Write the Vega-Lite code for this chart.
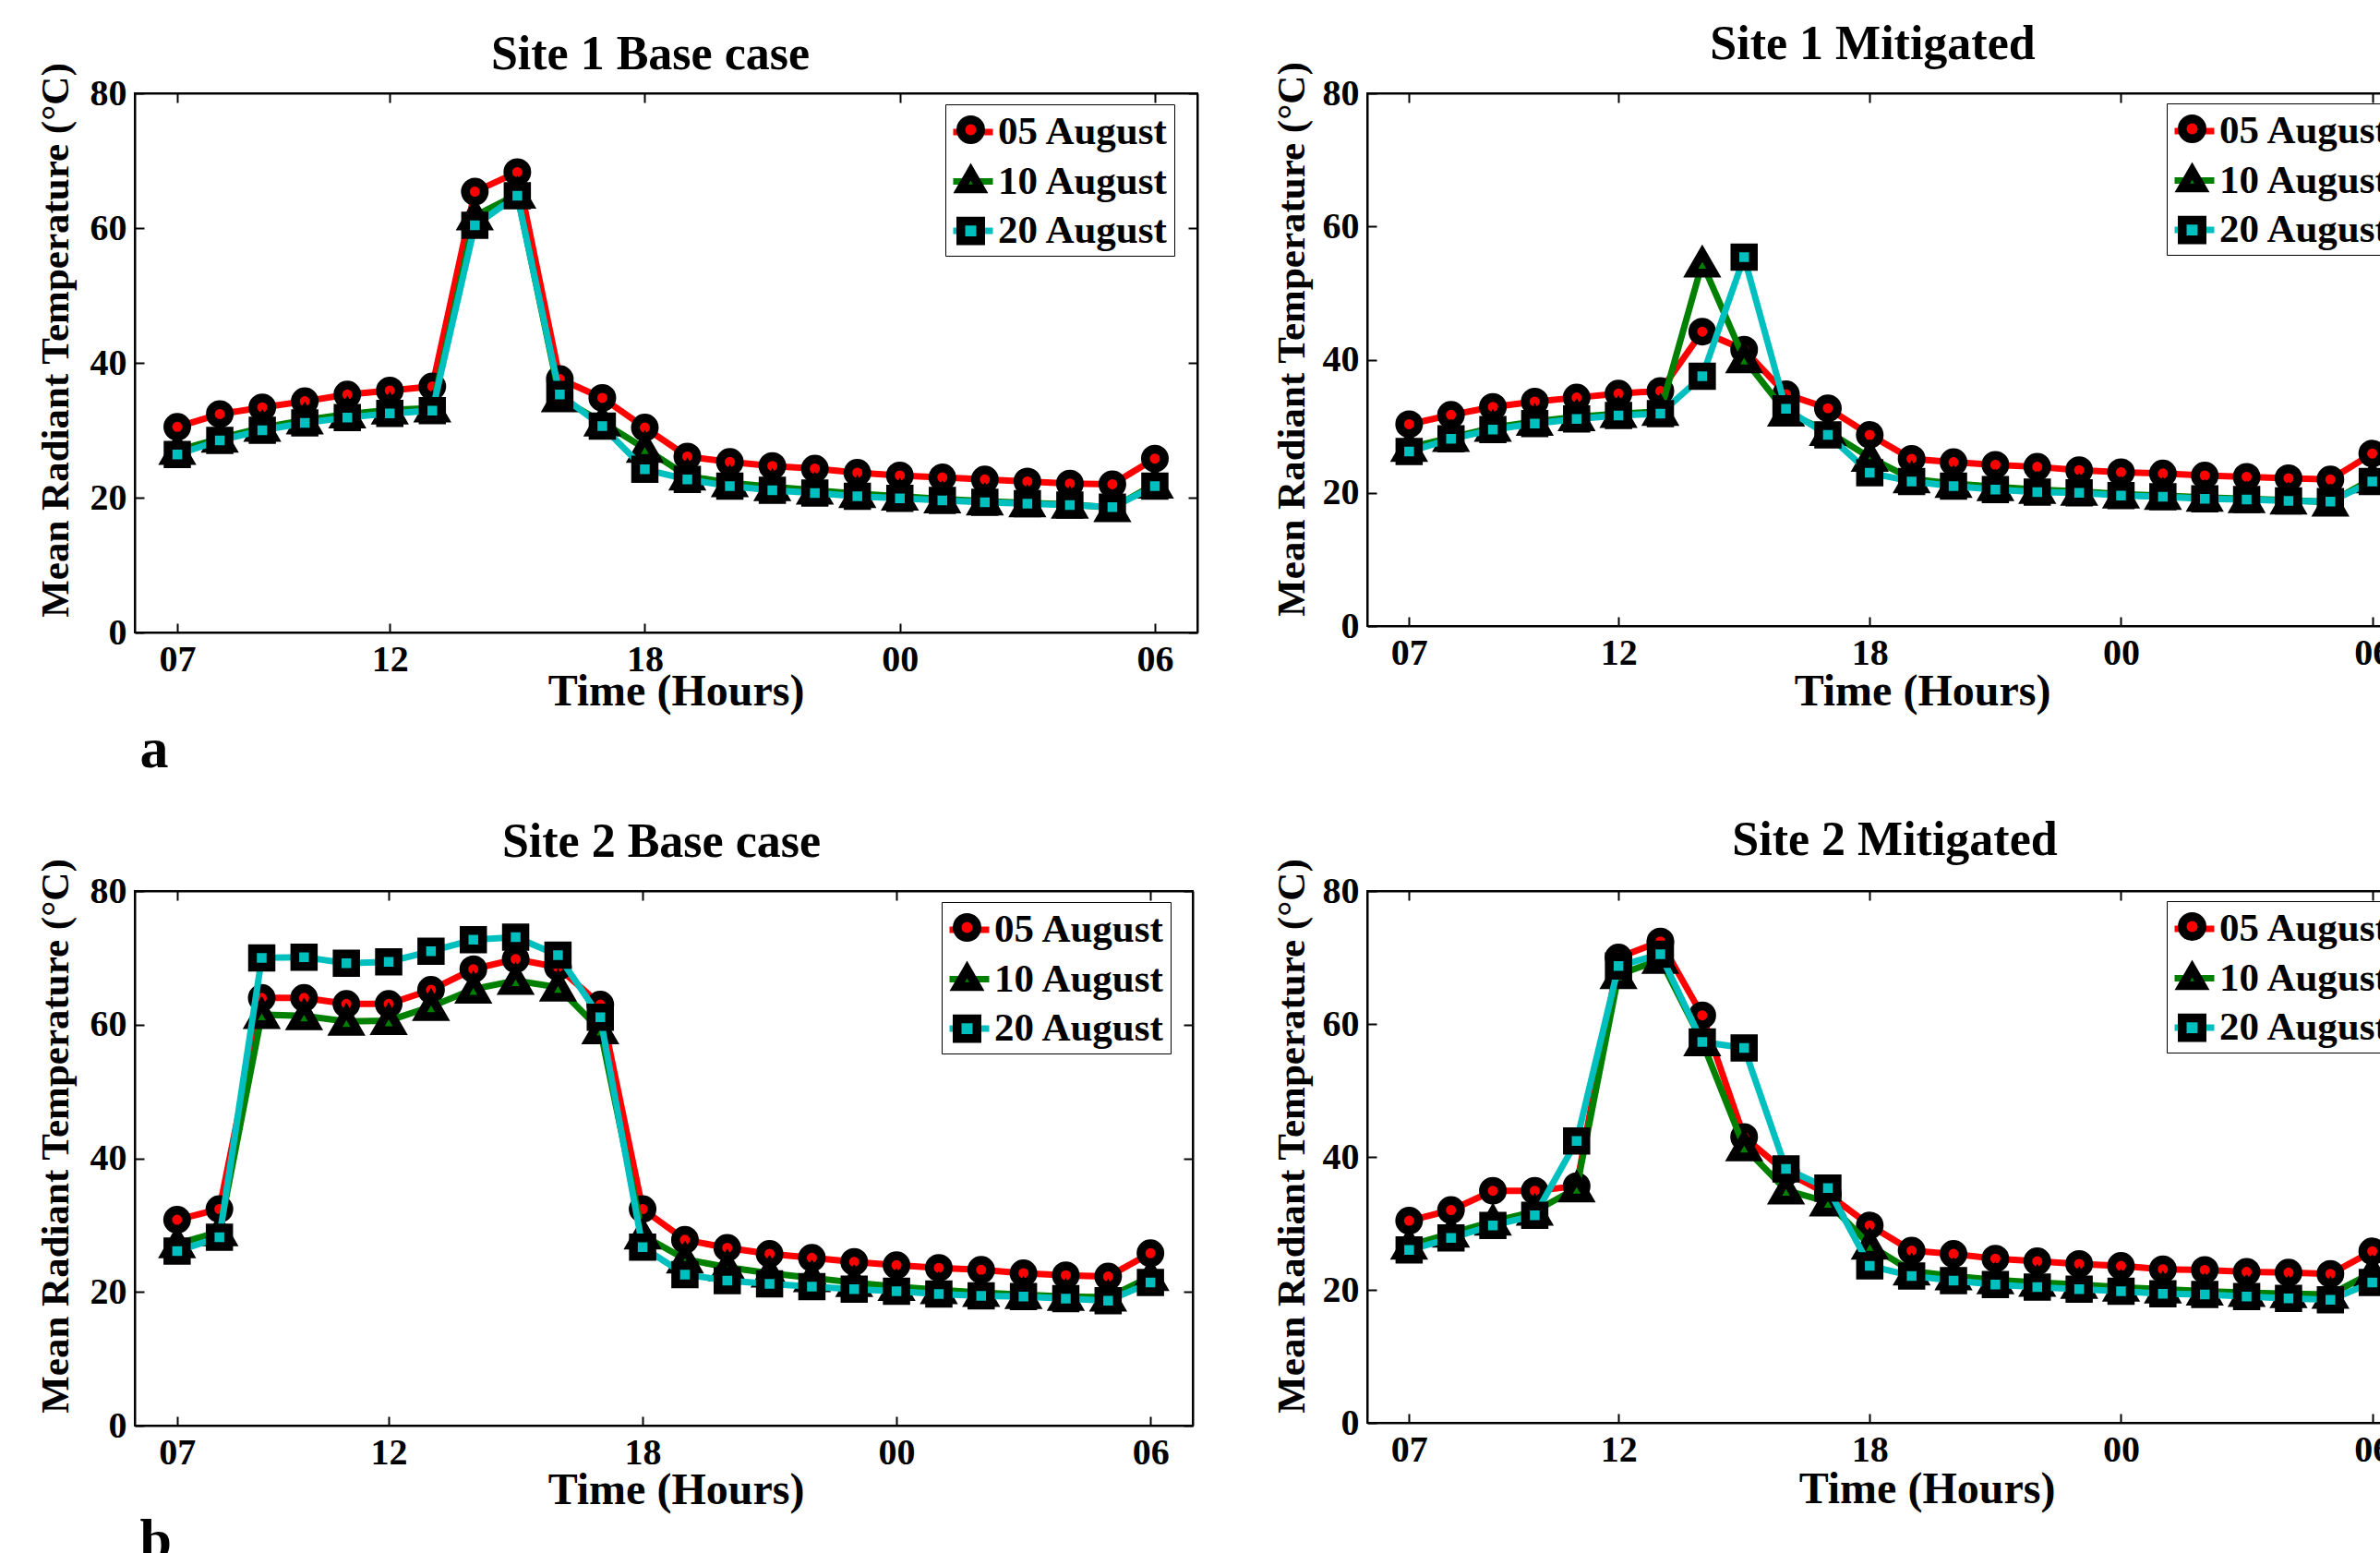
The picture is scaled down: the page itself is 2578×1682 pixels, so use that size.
{
"$schema": "https://vega.github.io/schema/vega-lite/v6.json",
"background": "white",
"padding": {"left": 37, "top": 20, "right": 0, "bottom": 0},
"data": {"name": "mrt"},
"datasets": {"mrt": [
{"panel":"S1B","date":"05 August","hour":1,"mrt":30.5},{"panel":"S1B","date":"05 August","hour":2,"mrt":32.4},{"panel":"S1B","date":"05 August","hour":3,"mrt":33.4},{"panel":"S1B","date":"05 August","hour":4,"mrt":34.3},{"panel":"S1B","date":"05 August","hour":5,"mrt":35.3},{"panel":"S1B","date":"05 August","hour":6,"mrt":35.9},{"panel":"S1B","date":"05 August","hour":7,"mrt":36.5},{"panel":"S1B","date":"05 August","hour":8,"mrt":65.4},{"panel":"S1B","date":"05 August","hour":9,"mrt":68.3},{"panel":"S1B","date":"05 August","hour":10,"mrt":37.6},{"panel":"S1B","date":"05 August","hour":11,"mrt":34.8},{"panel":"S1B","date":"05 August","hour":12,"mrt":30.4},{"panel":"S1B","date":"05 August","hour":13,"mrt":26.1},{"panel":"S1B","date":"05 August","hour":14,"mrt":25.3},{"panel":"S1B","date":"05 August","hour":15,"mrt":24.7},{"panel":"S1B","date":"05 August","hour":16,"mrt":24.3},{"panel":"S1B","date":"05 August","hour":17,"mrt":23.7},{"panel":"S1B","date":"05 August","hour":18,"mrt":23.3},{"panel":"S1B","date":"05 August","hour":19,"mrt":23.0},{"panel":"S1B","date":"05 August","hour":20,"mrt":22.7},{"panel":"S1B","date":"05 August","hour":21,"mrt":22.4},{"panel":"S1B","date":"05 August","hour":22,"mrt":22.1},{"panel":"S1B","date":"05 August","hour":23,"mrt":22.0},{"panel":"S1B","date":"05 August","hour":24,"mrt":25.8},
{"panel":"S1B","date":"10 August","hour":1,"mrt":27.0},{"panel":"S1B","date":"10 August","hour":2,"mrt":28.8},{"panel":"S1B","date":"10 August","hour":3,"mrt":30.4},{"panel":"S1B","date":"10 August","hour":4,"mrt":31.5},{"panel":"S1B","date":"10 August","hour":5,"mrt":32.4},{"panel":"S1B","date":"10 August","hour":6,"mrt":33.0},{"panel":"S1B","date":"10 August","hour":7,"mrt":33.3},{"panel":"S1B","date":"10 August","hour":8,"mrt":61.8},{"panel":"S1B","date":"10 August","hour":9,"mrt":65.0},{"panel":"S1B","date":"10 August","hour":10,"mrt":34.8},{"panel":"S1B","date":"10 August","hour":11,"mrt":31.2},{"panel":"S1B","date":"10 August","hour":12,"mrt":27.3},{"panel":"S1B","date":"10 August","hour":13,"mrt":23.2},{"panel":"S1B","date":"10 August","hour":14,"mrt":22.2},{"panel":"S1B","date":"10 August","hour":15,"mrt":21.6},{"panel":"S1B","date":"10 August","hour":16,"mrt":21.1},{"panel":"S1B","date":"10 August","hour":17,"mrt":20.6},{"panel":"S1B","date":"10 August","hour":18,"mrt":20.2},{"panel":"S1B","date":"10 August","hour":19,"mrt":19.8},{"panel":"S1B","date":"10 August","hour":20,"mrt":19.5},{"panel":"S1B","date":"10 August","hour":21,"mrt":19.2},{"panel":"S1B","date":"10 August","hour":22,"mrt":19.0},{"panel":"S1B","date":"10 August","hour":23,"mrt":18.5},{"panel":"S1B","date":"10 August","hour":24,"mrt":22.0},
{"panel":"S1B","date":"20 August","hour":1,"mrt":26.4},{"panel":"S1B","date":"20 August","hour":2,"mrt":28.5},{"panel":"S1B","date":"20 August","hour":3,"mrt":30.0},{"panel":"S1B","date":"20 August","hour":4,"mrt":31.1},{"panel":"S1B","date":"20 August","hour":5,"mrt":31.9},{"panel":"S1B","date":"20 August","hour":6,"mrt":32.5},{"panel":"S1B","date":"20 August","hour":7,"mrt":32.9},{"panel":"S1B","date":"20 August","hour":8,"mrt":60.4},{"panel":"S1B","date":"20 August","hour":9,"mrt":64.8},{"panel":"S1B","date":"20 August","hour":10,"mrt":35.3},{"panel":"S1B","date":"20 August","hour":11,"mrt":30.6},{"panel":"S1B","date":"20 August","hour":12,"mrt":24.2},{"panel":"S1B","date":"20 August","hour":13,"mrt":22.7},{"panel":"S1B","date":"20 August","hour":14,"mrt":21.7},{"panel":"S1B","date":"20 August","hour":15,"mrt":21.1},{"panel":"S1B","date":"20 August","hour":16,"mrt":20.7},{"panel":"S1B","date":"20 August","hour":17,"mrt":20.2},{"panel":"S1B","date":"20 August","hour":18,"mrt":19.9},{"panel":"S1B","date":"20 August","hour":19,"mrt":19.6},{"panel":"S1B","date":"20 August","hour":20,"mrt":19.3},{"panel":"S1B","date":"20 August","hour":21,"mrt":19.1},{"panel":"S1B","date":"20 August","hour":22,"mrt":18.9},{"panel":"S1B","date":"20 August","hour":23,"mrt":18.6},{"panel":"S1B","date":"20 August","hour":24,"mrt":21.7},
{"panel":"S1M","date":"05 August","hour":1,"mrt":30.3},{"panel":"S1M","date":"05 August","hour":2,"mrt":31.7},{"panel":"S1M","date":"05 August","hour":3,"mrt":32.9},{"panel":"S1M","date":"05 August","hour":4,"mrt":33.7},{"panel":"S1M","date":"05 August","hour":5,"mrt":34.3},{"panel":"S1M","date":"05 August","hour":6,"mrt":34.9},{"panel":"S1M","date":"05 August","hour":7,"mrt":35.3},{"panel":"S1M","date":"05 August","hour":8,"mrt":44.2},{"panel":"S1M","date":"05 August","hour":9,"mrt":41.5},{"panel":"S1M","date":"05 August","hour":10,"mrt":34.8},{"panel":"S1M","date":"05 August","hour":11,"mrt":32.7},{"panel":"S1M","date":"05 August","hour":12,"mrt":28.7},{"panel":"S1M","date":"05 August","hour":13,"mrt":25.1},{"panel":"S1M","date":"05 August","hour":14,"mrt":24.6},{"panel":"S1M","date":"05 August","hour":15,"mrt":24.2},{"panel":"S1M","date":"05 August","hour":16,"mrt":23.9},{"panel":"S1M","date":"05 August","hour":17,"mrt":23.4},{"panel":"S1M","date":"05 August","hour":18,"mrt":23.1},{"panel":"S1M","date":"05 August","hour":19,"mrt":22.9},{"panel":"S1M","date":"05 August","hour":20,"mrt":22.6},{"panel":"S1M","date":"05 August","hour":21,"mrt":22.4},{"panel":"S1M","date":"05 August","hour":22,"mrt":22.2},{"panel":"S1M","date":"05 August","hour":23,"mrt":22.0},{"panel":"S1M","date":"05 August","hour":24,"mrt":25.9},
{"panel":"S1M","date":"10 August","hour":1,"mrt":26.8},{"panel":"S1M","date":"10 August","hour":2,"mrt":28.3},{"panel":"S1M","date":"10 August","hour":3,"mrt":29.8},{"panel":"S1M","date":"10 August","hour":4,"mrt":30.7},{"panel":"S1M","date":"10 August","hour":5,"mrt":31.4},{"panel":"S1M","date":"10 August","hour":6,"mrt":31.9},{"panel":"S1M","date":"10 August","hour":7,"mrt":32.2},{"panel":"S1M","date":"10 August","hour":8,"mrt":54.5},{"panel":"S1M","date":"10 August","hour":9,"mrt":40.1},{"panel":"S1M","date":"10 August","hour":10,"mrt":32.1},{"panel":"S1M","date":"10 August","hour":11,"mrt":29.2},{"panel":"S1M","date":"10 August","hour":12,"mrt":25.3},{"panel":"S1M","date":"10 August","hour":13,"mrt":22.1},{"panel":"S1M","date":"10 August","hour":14,"mrt":21.4},{"panel":"S1M","date":"10 August","hour":15,"mrt":20.9},{"panel":"S1M","date":"10 August","hour":16,"mrt":20.5},{"panel":"S1M","date":"10 August","hour":17,"mrt":20.2},{"panel":"S1M","date":"10 August","hour":18,"mrt":19.8},{"panel":"S1M","date":"10 August","hour":19,"mrt":19.6},{"panel":"S1M","date":"10 August","hour":20,"mrt":19.3},{"panel":"S1M","date":"10 August","hour":21,"mrt":19.1},{"panel":"S1M","date":"10 August","hour":22,"mrt":18.9},{"panel":"S1M","date":"10 August","hour":23,"mrt":18.6},{"panel":"S1M","date":"10 August","hour":24,"mrt":22.1},
{"panel":"S1M","date":"20 August","hour":1,"mrt":26.2},{"panel":"S1M","date":"20 August","hour":2,"mrt":28.1},{"panel":"S1M","date":"20 August","hour":3,"mrt":29.5},{"panel":"S1M","date":"20 August","hour":4,"mrt":30.4},{"panel":"S1M","date":"20 August","hour":5,"mrt":31.1},{"panel":"S1M","date":"20 August","hour":6,"mrt":31.6},{"panel":"S1M","date":"20 August","hour":7,"mrt":31.9},{"panel":"S1M","date":"20 August","hour":8,"mrt":37.5},{"panel":"S1M","date":"20 August","hour":9,"mrt":55.4},{"panel":"S1M","date":"20 August","hour":10,"mrt":32.6},{"panel":"S1M","date":"20 August","hour":11,"mrt":28.7},{"panel":"S1M","date":"20 August","hour":12,"mrt":23.0},{"panel":"S1M","date":"20 August","hour":13,"mrt":21.7},{"panel":"S1M","date":"20 August","hour":14,"mrt":21.0},{"panel":"S1M","date":"20 August","hour":15,"mrt":20.5},{"panel":"S1M","date":"20 August","hour":16,"mrt":20.1},{"panel":"S1M","date":"20 August","hour":17,"mrt":20.0},{"panel":"S1M","date":"20 August","hour":18,"mrt":19.6},{"panel":"S1M","date":"20 August","hour":19,"mrt":19.4},{"panel":"S1M","date":"20 August","hour":20,"mrt":19.1},{"panel":"S1M","date":"20 August","hour":21,"mrt":19.0},{"panel":"S1M","date":"20 August","hour":22,"mrt":18.8},{"panel":"S1M","date":"20 August","hour":23,"mrt":18.7},{"panel":"S1M","date":"20 August","hour":24,"mrt":21.7},
{"panel":"S2B","date":"05 August","hour":1,"mrt":30.8},{"panel":"S2B","date":"05 August","hour":2,"mrt":32.4},{"panel":"S2B","date":"05 August","hour":3,"mrt":64.0},{"panel":"S2B","date":"05 August","hour":4,"mrt":64.0},{"panel":"S2B","date":"05 August","hour":5,"mrt":63.1},{"panel":"S2B","date":"05 August","hour":6,"mrt":63.1},{"panel":"S2B","date":"05 August","hour":7,"mrt":65.2},{"panel":"S2B","date":"05 August","hour":8,"mrt":68.3},{"panel":"S2B","date":"05 August","hour":9,"mrt":69.8},{"panel":"S2B","date":"05 August","hour":10,"mrt":68.6},{"panel":"S2B","date":"05 August","hour":11,"mrt":63.0},{"panel":"S2B","date":"05 August","hour":12,"mrt":32.4},{"panel":"S2B","date":"05 August","hour":13,"mrt":27.8},{"panel":"S2B","date":"05 August","hour":14,"mrt":26.6},{"panel":"S2B","date":"05 August","hour":15,"mrt":25.7},{"panel":"S2B","date":"05 August","hour":16,"mrt":25.1},{"panel":"S2B","date":"05 August","hour":17,"mrt":24.5},{"panel":"S2B","date":"05 August","hour":18,"mrt":24.0},{"panel":"S2B","date":"05 August","hour":19,"mrt":23.6},{"panel":"S2B","date":"05 August","hour":20,"mrt":23.3},{"panel":"S2B","date":"05 August","hour":21,"mrt":22.8},{"panel":"S2B","date":"05 August","hour":22,"mrt":22.5},{"panel":"S2B","date":"05 August","hour":23,"mrt":22.3},{"panel":"S2B","date":"05 August","hour":24,"mrt":25.8},
{"panel":"S2B","date":"10 August","hour":1,"mrt":27.2},{"panel":"S2B","date":"10 August","hour":2,"mrt":29.0},{"panel":"S2B","date":"10 August","hour":3,"mrt":61.5},{"panel":"S2B","date":"10 August","hour":4,"mrt":61.3},{"panel":"S2B","date":"10 August","hour":5,"mrt":60.5},{"panel":"S2B","date":"10 August","hour":6,"mrt":60.6},{"panel":"S2B","date":"10 August","hour":7,"mrt":62.7},{"panel":"S2B","date":"10 August","hour":8,"mrt":65.3},{"panel":"S2B","date":"10 August","hour":9,"mrt":66.6},{"panel":"S2B","date":"10 August","hour":10,"mrt":65.6},{"panel":"S2B","date":"10 August","hour":11,"mrt":59.2},{"panel":"S2B","date":"10 August","hour":12,"mrt":28.5},{"panel":"S2B","date":"10 August","hour":13,"mrt":24.9},{"panel":"S2B","date":"10 August","hour":14,"mrt":23.7},{"panel":"S2B","date":"10 August","hour":15,"mrt":22.8},{"panel":"S2B","date":"10 August","hour":16,"mrt":22.1},{"panel":"S2B","date":"10 August","hour":17,"mrt":21.4},{"panel":"S2B","date":"10 August","hour":18,"mrt":20.8},{"panel":"S2B","date":"10 August","hour":19,"mrt":20.3},{"panel":"S2B","date":"10 August","hour":20,"mrt":19.9},{"panel":"S2B","date":"10 August","hour":21,"mrt":19.6},{"panel":"S2B","date":"10 August","hour":22,"mrt":19.3},{"panel":"S2B","date":"10 August","hour":23,"mrt":19.2},{"panel":"S2B","date":"10 August","hour":24,"mrt":22.3},
{"panel":"S2B","date":"20 August","hour":1,"mrt":26.1},{"panel":"S2B","date":"20 August","hour":2,"mrt":28.2},{"panel":"S2B","date":"20 August","hour":3,"mrt":70.0},{"panel":"S2B","date":"20 August","hour":4,"mrt":70.1},{"panel":"S2B","date":"20 August","hour":5,"mrt":69.2},{"panel":"S2B","date":"20 August","hour":6,"mrt":69.4},{"panel":"S2B","date":"20 August","hour":7,"mrt":71.0},{"panel":"S2B","date":"20 August","hour":8,"mrt":72.7},{"panel":"S2B","date":"20 August","hour":9,"mrt":73.1},{"panel":"S2B","date":"20 August","hour":10,"mrt":70.4},{"panel":"S2B","date":"20 August","hour":11,"mrt":61.1},{"panel":"S2B","date":"20 August","hour":12,"mrt":26.7},{"panel":"S2B","date":"20 August","hour":13,"mrt":22.6},{"panel":"S2B","date":"20 August","hour":14,"mrt":21.7},{"panel":"S2B","date":"20 August","hour":15,"mrt":21.2},{"panel":"S2B","date":"20 August","hour":16,"mrt":20.8},{"panel":"S2B","date":"20 August","hour":17,"mrt":20.4},{"panel":"S2B","date":"20 August","hour":18,"mrt":20.1},{"panel":"S2B","date":"20 August","hour":19,"mrt":19.7},{"panel":"S2B","date":"20 August","hour":20,"mrt":19.4},{"panel":"S2B","date":"20 August","hour":21,"mrt":19.3},{"panel":"S2B","date":"20 August","hour":22,"mrt":19.0},{"panel":"S2B","date":"20 August","hour":23,"mrt":18.7},{"panel":"S2B","date":"20 August","hour":24,"mrt":21.4},
{"panel":"S2M","date":"05 August","hour":1,"mrt":30.4},{"panel":"S2M","date":"05 August","hour":2,"mrt":32.0},{"panel":"S2M","date":"05 August","hour":3,"mrt":34.9},{"panel":"S2M","date":"05 August","hour":4,"mrt":34.9},{"panel":"S2M","date":"05 August","hour":5,"mrt":35.6},{"panel":"S2M","date":"05 August","hour":6,"mrt":70.0},{"panel":"S2M","date":"05 August","hour":7,"mrt":72.4},{"panel":"S2M","date":"05 August","hour":8,"mrt":61.3},{"panel":"S2M","date":"05 August","hour":9,"mrt":43.0},{"panel":"S2M","date":"05 August","hour":10,"mrt":37.7},{"panel":"S2M","date":"05 August","hour":11,"mrt":34.4},{"panel":"S2M","date":"05 August","hour":12,"mrt":29.7},{"panel":"S2M","date":"05 August","hour":13,"mrt":25.9},{"panel":"S2M","date":"05 August","hour":14,"mrt":25.4},{"panel":"S2M","date":"05 August","hour":15,"mrt":24.7},{"panel":"S2M","date":"05 August","hour":16,"mrt":24.3},{"panel":"S2M","date":"05 August","hour":17,"mrt":23.9},{"panel":"S2M","date":"05 August","hour":18,"mrt":23.6},{"panel":"S2M","date":"05 August","hour":19,"mrt":23.1},{"panel":"S2M","date":"05 August","hour":20,"mrt":23.0},{"panel":"S2M","date":"05 August","hour":21,"mrt":22.7},{"panel":"S2M","date":"05 August","hour":22,"mrt":22.6},{"panel":"S2M","date":"05 August","hour":23,"mrt":22.4},{"panel":"S2M","date":"05 August","hour":24,"mrt":25.8},
{"panel":"S2M","date":"10 August","hour":1,"mrt":26.7},{"panel":"S2M","date":"10 August","hour":2,"mrt":28.5},{"panel":"S2M","date":"10 August","hour":3,"mrt":30.3},{"panel":"S2M","date":"10 August","hour":4,"mrt":31.8},{"panel":"S2M","date":"10 August","hour":5,"mrt":35.3},{"panel":"S2M","date":"10 August","hour":6,"mrt":67.4},{"panel":"S2M","date":"10 August","hour":7,"mrt":69.7},{"panel":"S2M","date":"10 August","hour":8,"mrt":57.3},{"panel":"S2M","date":"10 August","hour":9,"mrt":41.5},{"panel":"S2M","date":"10 August","hour":10,"mrt":35.0},{"panel":"S2M","date":"10 August","hour":11,"mrt":33.2},{"panel":"S2M","date":"10 August","hour":12,"mrt":26.7},{"panel":"S2M","date":"10 August","hour":13,"mrt":22.8},{"panel":"S2M","date":"10 August","hour":14,"mrt":22.1},{"panel":"S2M","date":"10 August","hour":15,"mrt":21.5},{"panel":"S2M","date":"10 August","hour":16,"mrt":21.1},{"panel":"S2M","date":"10 August","hour":17,"mrt":20.8},{"panel":"S2M","date":"10 August","hour":18,"mrt":20.4},{"panel":"S2M","date":"10 August","hour":19,"mrt":20.1},{"panel":"S2M","date":"10 August","hour":20,"mrt":19.8},{"panel":"S2M","date":"10 August","hour":21,"mrt":19.6},{"panel":"S2M","date":"10 August","hour":22,"mrt":19.4},{"panel":"S2M","date":"10 August","hour":23,"mrt":19.3},{"panel":"S2M","date":"10 August","hour":24,"mrt":22.6},
{"panel":"S2M","date":"20 August","hour":1,"mrt":26.0},{"panel":"S2M","date":"20 August","hour":2,"mrt":27.8},{"panel":"S2M","date":"20 August","hour":3,"mrt":29.7},{"panel":"S2M","date":"20 August","hour":4,"mrt":31.2},{"panel":"S2M","date":"20 August","hour":5,"mrt":42.4},{"panel":"S2M","date":"20 August","hour":6,"mrt":68.7},{"panel":"S2M","date":"20 August","hour":7,"mrt":70.5},{"panel":"S2M","date":"20 August","hour":8,"mrt":57.3},{"panel":"S2M","date":"20 August","hour":9,"mrt":56.4},{"panel":"S2M","date":"20 August","hour":10,"mrt":38.2},{"panel":"S2M","date":"20 August","hour":11,"mrt":35.3},{"panel":"S2M","date":"20 August","hour":12,"mrt":23.6},{"panel":"S2M","date":"20 August","hour":13,"mrt":22.1},{"panel":"S2M","date":"20 August","hour":14,"mrt":21.4},{"panel":"S2M","date":"20 August","hour":15,"mrt":20.8},{"panel":"S2M","date":"20 August","hour":16,"mrt":20.4},{"panel":"S2M","date":"20 August","hour":17,"mrt":20.1},{"panel":"S2M","date":"20 August","hour":18,"mrt":19.8},{"panel":"S2M","date":"20 August","hour":19,"mrt":19.4},{"panel":"S2M","date":"20 August","hour":20,"mrt":19.3},{"panel":"S2M","date":"20 August","hour":21,"mrt":19.0},{"panel":"S2M","date":"20 August","hour":22,"mrt":18.7},{"panel":"S2M","date":"20 August","hour":23,"mrt":18.5},{"panel":"S2M","date":"20 August","hour":24,"mrt":21.1}
]},
"bounds": "flush",
"spacing": 864,
"resolve": {"scale": {"color": "independent", "stroke": "independent", "shape": "independent"}, "legend": {"color": "independent", "stroke": "independent", "shape": "independent"}},
"vconcat": [
{
"bounds": "flush",
"spacing": 184,
"resolve": {"scale": {"color": "independent", "stroke": "independent", "shape": "independent"}, "legend": {"color": "independent", "stroke": "independent", "shape": "independent"}},
"hconcat": [
{
"width": 1151, "height": 584,
"transform": [{"filter": "datum.panel=='S1B'"}],
"encoding": {
"x": {"field": "hour", "type": "quantitative", "scale": {"domain": [0, 25], "nice": false, "zero": false}, "axis": null},
"y": {"field": "mrt", "type": "quantitative", "scale": {"domain": [0, 80], "nice": false}, "axis": null}
},
"layer": [
{"transform": [{"filter": "datum.date=='05 August'"}], "mark": {"type": "line", "strokeWidth": 7},
"encoding": {
"x": {"field": "hour", "type": "quantitative", "scale": {"domain": [0, 25], "nice": false, "zero": false}, "axis": {"orient": "bottom", "values": [1, 6, 12, 18, 24], "labelExpr": "(datum.value+6)%24<10 ? '0'+((datum.value+6)%24) : ''+((datum.value+6)%24)", "title": "Time (Hours)", "titleFontSize": 48, "titleX": 586, "titleY": 78, "titleAlign": "center", "titleBaseline": "alphabetic"}},
"y": {"field": "mrt", "type": "quantitative", "scale": {"domain": [0, 80], "nice": false}, "axis": {"orient": "left", "values": [0, 20, 40, 60, 80], "title": "Mean Radiant Temperature (°C)", "titleFontSize": 43, "titleX": -86, "titleY": 267, "titleAngle": 270, "titleAlign": "center", "titleBaseline": "middle"}},
"stroke": {"field": "date", "type": "nominal", "scale": {"domain": ["05 August", "10 August", "20 August"], "range": ["#ff0000", "#008000", "#00bfbf"]}, "legend": {"orient": "none", "legendX": 878, "legendY": 12, "title": null, "symbolType": "stroke", "symbolSize": 1849, "symbolStrokeWidth": 7, "labelFontSize": 43, "labelOffset": 2, "rowPadding": 6.5, "padding": 5, "strokeColor": "black", "fillColor": "white"}}
}},
{"transform": [{"filter": "datum.date=='05 August'"}], "mark": {"type": "point", "filled": true, "size": 420, "stroke": "black", "strokeWidth": 9.5, "opacity": 1},
"encoding": {
"x": {"field": "hour", "type": "quantitative", "scale": {"domain": [0, 25], "nice": false, "zero": false}, "axis": {"orient": "top", "values": [1, 6, 12, 18, 24], "labels": false, "title": "Site 1 Base case", "titleFontSize": 52, "titleX": 558, "titleY": -27, "titleAngle": 0, "titleAlign": "center", "titleBaseline": "alphabetic"}},
"y": {"field": "mrt", "type": "quantitative", "scale": {"domain": [0, 80], "nice": false}, "axis": {"orient": "right", "values": [0, 20, 40, 60, 80], "labels": false, "title": "a", "titleFontSize": 62, "titleX": -1146, "titleY": 729, "titleAngle": 0, "titleAlign": "left", "titleBaseline": "alphabetic"}},
"color": {"field": "date", "type": "nominal", "scale": {"range": ["#ff0000", "#008000", "#00bfbf"]}, "legend": {"orient": "none", "legendX": 883, "legendY": 17, "title": null, "symbolSize": 460, "symbolStrokeColor": "black", "symbolStrokeWidth": 9.5, "symbolOpacity": 1, "labelFontSize": 45, "labelOpacity": 0, "rowPadding": -4.2, "padding": 0, "encode": {"symbols": {"update": {"size": {"value": 460}, "stroke": {"value": "black"}, "strokeWidth": {"value": 9.5}, "opacity": {"value": 1}}}, "labels": {"update": {"fontSize": {"value": 45}, "opacity": {"value": 0}}}}}},
"shape": {"field": "date", "type": "nominal", "scale": {"range": ["circle", "triangle-up", "square"]}, "legend": {"orient": "none", "legendX": 883, "legendY": 17, "title": null, "symbolSize": 460, "symbolStrokeColor": "black", "symbolStrokeWidth": 9.5, "symbolOpacity": 1, "labelFontSize": 45, "labelOpacity": 0, "rowPadding": -4.2, "padding": 0, "encode": {"symbols": {"update": {"size": {"value": 460}, "stroke": {"value": "black"}, "strokeWidth": {"value": 9.5}, "opacity": {"value": 1}}}, "labels": {"update": {"fontSize": {"value": 45}, "opacity": {"value": 0}}}}}}
}},
{"transform": [{"filter": "datum.date=='10 August'"}], "mark": {"type": "line", "strokeWidth": 7},
"encoding": {"stroke": {"field": "date", "type": "nominal", "scale": {"domain": ["05 August", "10 August", "20 August"], "range": ["#ff0000", "#008000", "#00bfbf"]}, "legend": {"orient": "none", "legendX": 878, "legendY": 12, "title": null, "symbolType": "stroke", "symbolSize": 1849, "symbolStrokeWidth": 7, "labelFontSize": 43, "labelOffset": 2, "rowPadding": 6.5, "padding": 5, "strokeColor": "black", "fillColor": "white"}}}},
{"transform": [{"filter": "datum.date=='10 August'"}], "mark": {"type": "point", "filled": true, "size": 620, "stroke": "black", "strokeWidth": 9.5, "opacity": 1},
"encoding": {
"color": {"field": "date", "type": "nominal", "scale": {"range": ["#ff0000", "#008000", "#00bfbf"]}, "legend": {"orient": "none", "legendX": 883, "legendY": 17, "title": null, "symbolSize": 460, "symbolStrokeColor": "black", "symbolStrokeWidth": 9.5, "symbolOpacity": 1, "labelFontSize": 45, "labelOpacity": 0, "rowPadding": -4.2, "padding": 0, "encode": {"symbols": {"update": {"size": {"value": 460}, "stroke": {"value": "black"}, "strokeWidth": {"value": 9.5}, "opacity": {"value": 1}}}, "labels": {"update": {"fontSize": {"value": 45}, "opacity": {"value": 0}}}}}},
"shape": {"field": "date", "type": "nominal", "scale": {"range": ["circle", "triangle-up", "square"]}, "legend": {"orient": "none", "legendX": 883, "legendY": 17, "title": null, "symbolSize": 460, "symbolStrokeColor": "black", "symbolStrokeWidth": 9.5, "symbolOpacity": 1, "labelFontSize": 45, "labelOpacity": 0, "rowPadding": -4.2, "padding": 0, "encode": {"symbols": {"update": {"size": {"value": 460}, "stroke": {"value": "black"}, "strokeWidth": {"value": 9.5}, "opacity": {"value": 1}}}, "labels": {"update": {"fontSize": {"value": 45}, "opacity": {"value": 0}}}}}}
}},
{"transform": [{"filter": "datum.date=='20 August'"}], "mark": {"type": "line", "strokeWidth": 7},
"encoding": {"stroke": {"field": "date", "type": "nominal", "scale": {"domain": ["05 August", "10 August", "20 August"], "range": ["#ff0000", "#008000", "#00bfbf"]}, "legend": {"orient": "none", "legendX": 878, "legendY": 12, "title": null, "symbolType": "stroke", "symbolSize": 1849, "symbolStrokeWidth": 7, "labelFontSize": 43, "labelOffset": 2, "rowPadding": 6.5, "padding": 5, "strokeColor": "black", "fillColor": "white"}}}},
{"transform": [{"filter": "datum.date=='20 August'"}], "mark": {"type": "point", "filled": true, "size": 400, "stroke": "black", "strokeWidth": 9.5, "opacity": 1},
"encoding": {
"color": {"field": "date", "type": "nominal", "scale": {"range": ["#ff0000", "#008000", "#00bfbf"]}, "legend": {"orient": "none", "legendX": 883, "legendY": 17, "title": null, "symbolSize": 460, "symbolStrokeColor": "black", "symbolStrokeWidth": 9.5, "symbolOpacity": 1, "labelFontSize": 45, "labelOpacity": 0, "rowPadding": -4.2, "padding": 0, "encode": {"symbols": {"update": {"size": {"value": 460}, "stroke": {"value": "black"}, "strokeWidth": {"value": 9.5}, "opacity": {"value": 1}}}, "labels": {"update": {"fontSize": {"value": 45}, "opacity": {"value": 0}}}}}},
"shape": {"field": "date", "type": "nominal", "scale": {"range": ["circle", "triangle-up", "square"]}, "legend": {"orient": "none", "legendX": 883, "legendY": 17, "title": null, "symbolSize": 460, "symbolStrokeColor": "black", "symbolStrokeWidth": 9.5, "symbolOpacity": 1, "labelFontSize": 45, "labelOpacity": 0, "rowPadding": -4.2, "padding": 0, "encode": {"symbols": {"update": {"size": {"value": 460}, "stroke": {"value": "black"}, "strokeWidth": {"value": 9.5}, "opacity": {"value": 1}}}, "labels": {"update": {"fontSize": {"value": 45}, "opacity": {"value": 0}}}}}}
}}
],
"resolve": {"axis": {"x": "independent", "y": "independent"}}
},
{
"width": 1134, "height": 577,
"transform": [{"filter": "datum.panel=='S1M'"}],
"encoding": {
"x": {"field": "hour", "type": "quantitative", "scale": {"domain": [0, 25], "nice": false, "zero": false}, "axis": null},
"y": {"field": "mrt", "type": "quantitative", "scale": {"domain": [0, 80], "nice": false}, "axis": null}
},
"layer": [
{"transform": [{"filter": "datum.date=='05 August'"}], "mark": {"type": "line", "strokeWidth": 7},
"encoding": {
"x": {"field": "hour", "type": "quantitative", "scale": {"domain": [0, 25], "nice": false, "zero": false}, "axis": {"orient": "bottom", "values": [1, 6, 12, 18, 24], "labelExpr": "(datum.value+6)%24<10 ? '0'+((datum.value+6)%24) : ''+((datum.value+6)%24)", "title": "Time (Hours)", "titleFontSize": 48, "titleX": 601, "titleY": 85, "titleAlign": "center", "titleBaseline": "alphabetic"}},
"y": {"field": "mrt", "type": "quantitative", "scale": {"domain": [0, 80], "nice": false}, "axis": {"orient": "left", "values": [0, 20, 40, 60, 80], "title": "Mean Radiant Temperature (°C)", "titleFontSize": 43, "titleX": -82, "titleY": 266, "titleAngle": 270, "titleAlign": "center", "titleBaseline": "middle"}},
"stroke": {"field": "date", "type": "nominal", "scale": {"domain": ["05 August", "10 August", "20 August"], "range": ["#ff0000", "#008000", "#00bfbf"]}, "legend": {"orient": "none", "legendX": 866, "legendY": 11, "title": null, "symbolType": "stroke", "symbolSize": 1849, "symbolStrokeWidth": 7, "labelFontSize": 43, "labelOffset": 2, "rowPadding": 6.5, "padding": 5, "strokeColor": "black", "fillColor": "white"}}
}},
{"transform": [{"filter": "datum.date=='05 August'"}], "mark": {"type": "point", "filled": true, "size": 420, "stroke": "black", "strokeWidth": 9.5, "opacity": 1},
"encoding": {
"x": {"field": "hour", "type": "quantitative", "scale": {"domain": [0, 25], "nice": false, "zero": false}, "axis": {"orient": "top", "values": [1, 6, 12, 18, 24], "labels": false, "title": "Site 1 Mitigated", "titleFontSize": 52, "titleX": 547, "titleY": -38, "titleAngle": 0, "titleAlign": "center", "titleBaseline": "alphabetic"}},
"y": {"field": "mrt", "type": "quantitative", "scale": {"domain": [0, 80], "nice": false}, "axis": {"orient": "right", "values": [0, 20, 40, 60, 80], "labels": false, "title": null}},
"color": {"field": "date", "type": "nominal", "scale": {"range": ["#ff0000", "#008000", "#00bfbf"]}, "legend": {"orient": "none", "legendX": 871, "legendY": 16, "title": null, "symbolSize": 460, "symbolStrokeColor": "black", "symbolStrokeWidth": 9.5, "symbolOpacity": 1, "labelFontSize": 45, "labelOpacity": 0, "rowPadding": -4.2, "padding": 0, "encode": {"symbols": {"update": {"size": {"value": 460}, "stroke": {"value": "black"}, "strokeWidth": {"value": 9.5}, "opacity": {"value": 1}}}, "labels": {"update": {"fontSize": {"value": 45}, "opacity": {"value": 0}}}}}},
"shape": {"field": "date", "type": "nominal", "scale": {"range": ["circle", "triangle-up", "square"]}, "legend": {"orient": "none", "legendX": 871, "legendY": 16, "title": null, "symbolSize": 460, "symbolStrokeColor": "black", "symbolStrokeWidth": 9.5, "symbolOpacity": 1, "labelFontSize": 45, "labelOpacity": 0, "rowPadding": -4.2, "padding": 0, "encode": {"symbols": {"update": {"size": {"value": 460}, "stroke": {"value": "black"}, "strokeWidth": {"value": 9.5}, "opacity": {"value": 1}}}, "labels": {"update": {"fontSize": {"value": 45}, "opacity": {"value": 0}}}}}}
}},
{"transform": [{"filter": "datum.date=='10 August'"}], "mark": {"type": "line", "strokeWidth": 7},
"encoding": {"stroke": {"field": "date", "type": "nominal", "scale": {"domain": ["05 August", "10 August", "20 August"], "range": ["#ff0000", "#008000", "#00bfbf"]}, "legend": {"orient": "none", "legendX": 866, "legendY": 11, "title": null, "symbolType": "stroke", "symbolSize": 1849, "symbolStrokeWidth": 7, "labelFontSize": 43, "labelOffset": 2, "rowPadding": 6.5, "padding": 5, "strokeColor": "black", "fillColor": "white"}}}},
{"transform": [{"filter": "datum.date=='10 August'"}], "mark": {"type": "point", "filled": true, "size": 620, "stroke": "black", "strokeWidth": 9.5, "opacity": 1},
"encoding": {
"color": {"field": "date", "type": "nominal", "scale": {"range": ["#ff0000", "#008000", "#00bfbf"]}, "legend": {"orient": "none", "legendX": 871, "legendY": 16, "title": null, "symbolSize": 460, "symbolStrokeColor": "black", "symbolStrokeWidth": 9.5, "symbolOpacity": 1, "labelFontSize": 45, "labelOpacity": 0, "rowPadding": -4.2, "padding": 0, "encode": {"symbols": {"update": {"size": {"value": 460}, "stroke": {"value": "black"}, "strokeWidth": {"value": 9.5}, "opacity": {"value": 1}}}, "labels": {"update": {"fontSize": {"value": 45}, "opacity": {"value": 0}}}}}},
"shape": {"field": "date", "type": "nominal", "scale": {"range": ["circle", "triangle-up", "square"]}, "legend": {"orient": "none", "legendX": 871, "legendY": 16, "title": null, "symbolSize": 460, "symbolStrokeColor": "black", "symbolStrokeWidth": 9.5, "symbolOpacity": 1, "labelFontSize": 45, "labelOpacity": 0, "rowPadding": -4.2, "padding": 0, "encode": {"symbols": {"update": {"size": {"value": 460}, "stroke": {"value": "black"}, "strokeWidth": {"value": 9.5}, "opacity": {"value": 1}}}, "labels": {"update": {"fontSize": {"value": 45}, "opacity": {"value": 0}}}}}}
}},
{"transform": [{"filter": "datum.date=='20 August'"}], "mark": {"type": "line", "strokeWidth": 7},
"encoding": {"stroke": {"field": "date", "type": "nominal", "scale": {"domain": ["05 August", "10 August", "20 August"], "range": ["#ff0000", "#008000", "#00bfbf"]}, "legend": {"orient": "none", "legendX": 866, "legendY": 11, "title": null, "symbolType": "stroke", "symbolSize": 1849, "symbolStrokeWidth": 7, "labelFontSize": 43, "labelOffset": 2, "rowPadding": 6.5, "padding": 5, "strokeColor": "black", "fillColor": "white"}}}},
{"transform": [{"filter": "datum.date=='20 August'"}], "mark": {"type": "point", "filled": true, "size": 400, "stroke": "black", "strokeWidth": 9.5, "opacity": 1},
"encoding": {
"color": {"field": "date", "type": "nominal", "scale": {"range": ["#ff0000", "#008000", "#00bfbf"]}, "legend": {"orient": "none", "legendX": 871, "legendY": 16, "title": null, "symbolSize": 460, "symbolStrokeColor": "black", "symbolStrokeWidth": 9.5, "symbolOpacity": 1, "labelFontSize": 45, "labelOpacity": 0, "rowPadding": -4.2, "padding": 0, "encode": {"symbols": {"update": {"size": {"value": 460}, "stroke": {"value": "black"}, "strokeWidth": {"value": 9.5}, "opacity": {"value": 1}}}, "labels": {"update": {"fontSize": {"value": 45}, "opacity": {"value": 0}}}}}},
"shape": {"field": "date", "type": "nominal", "scale": {"range": ["circle", "triangle-up", "square"]}, "legend": {"orient": "none", "legendX": 871, "legendY": 16, "title": null, "symbolSize": 460, "symbolStrokeColor": "black", "symbolStrokeWidth": 9.5, "symbolOpacity": 1, "labelFontSize": 45, "labelOpacity": 0, "rowPadding": -4.2, "padding": 0, "encode": {"symbols": {"update": {"size": {"value": 460}, "stroke": {"value": "black"}, "strokeWidth": {"value": 9.5}, "opacity": {"value": 1}}}, "labels": {"update": {"fontSize": {"value": 45}, "opacity": {"value": 0}}}}}}
}}
],
"resolve": {"axis": {"x": "independent", "y": "independent"}}
}
]
},
{
"bounds": "flush",
"spacing": 189,
"resolve": {"scale": {"color": "independent", "stroke": "independent", "shape": "independent"}, "legend": {"color": "independent", "stroke": "independent", "shape": "independent"}},
"hconcat": [
{
"width": 1146, "height": 579,
"transform": [{"filter": "datum.panel=='S2B'"}],
"encoding": {
"x": {"field": "hour", "type": "quantitative", "scale": {"domain": [0, 25], "nice": false, "zero": false}, "axis": null},
"y": {"field": "mrt", "type": "quantitative", "scale": {"domain": [0, 80], "nice": false}, "axis": null}
},
"layer": [
{"transform": [{"filter": "datum.date=='05 August'"}], "mark": {"type": "line", "strokeWidth": 7},
"encoding": {
"x": {"field": "hour", "type": "quantitative", "scale": {"domain": [0, 25], "nice": false, "zero": false}, "axis": {"orient": "bottom", "values": [1, 6, 12, 18, 24], "labelExpr": "(datum.value+6)%24<10 ? '0'+((datum.value+6)%24) : ''+((datum.value+6)%24)", "title": "Time (Hours)", "titleFontSize": 48, "titleX": 586, "titleY": 84, "titleAlign": "center", "titleBaseline": "alphabetic"}},
"y": {"field": "mrt", "type": "quantitative", "scale": {"domain": [0, 80], "nice": false}, "axis": {"orient": "left", "values": [0, 20, 40, 60, 80], "title": "Mean Radiant Temperature (°C)", "titleFontSize": 43, "titleX": -86, "titleY": 265, "titleAngle": 270, "titleAlign": "center", "titleBaseline": "middle"}},
"stroke": {"field": "date", "type": "nominal", "scale": {"domain": ["05 August", "10 August", "20 August"], "range": ["#ff0000", "#008000", "#00bfbf"]}, "legend": {"orient": "none", "legendX": 874, "legendY": 12, "title": null, "symbolType": "stroke", "symbolSize": 1849, "symbolStrokeWidth": 7, "labelFontSize": 43, "labelOffset": 2, "rowPadding": 6.5, "padding": 5, "strokeColor": "black", "fillColor": "white"}}
}},
{"transform": [{"filter": "datum.date=='05 August'"}], "mark": {"type": "point", "filled": true, "size": 420, "stroke": "black", "strokeWidth": 9.5, "opacity": 1},
"encoding": {
"x": {"field": "hour", "type": "quantitative", "scale": {"domain": [0, 25], "nice": false, "zero": false}, "axis": {"orient": "top", "values": [1, 6, 12, 18, 24], "labels": false, "title": "Site 2 Base case", "titleFontSize": 52, "titleX": 570, "titleY": -38, "titleAngle": 0, "titleAlign": "center", "titleBaseline": "alphabetic"}},
"y": {"field": "mrt", "type": "quantitative", "scale": {"domain": [0, 80], "nice": false}, "axis": {"orient": "right", "values": [0, 20, 40, 60, 80], "labels": false, "title": "b", "titleFontSize": 62, "titleX": -1141, "titleY": 722, "titleAngle": 0, "titleAlign": "left", "titleBaseline": "alphabetic"}},
"color": {"field": "date", "type": "nominal", "scale": {"range": ["#ff0000", "#008000", "#00bfbf"]}, "legend": {"orient": "none", "legendX": 879, "legendY": 17, "title": null, "symbolSize": 460, "symbolStrokeColor": "black", "symbolStrokeWidth": 9.5, "symbolOpacity": 1, "labelFontSize": 45, "labelOpacity": 0, "rowPadding": -4.2, "padding": 0, "encode": {"symbols": {"update": {"size": {"value": 460}, "stroke": {"value": "black"}, "strokeWidth": {"value": 9.5}, "opacity": {"value": 1}}}, "labels": {"update": {"fontSize": {"value": 45}, "opacity": {"value": 0}}}}}},
"shape": {"field": "date", "type": "nominal", "scale": {"range": ["circle", "triangle-up", "square"]}, "legend": {"orient": "none", "legendX": 879, "legendY": 17, "title": null, "symbolSize": 460, "symbolStrokeColor": "black", "symbolStrokeWidth": 9.5, "symbolOpacity": 1, "labelFontSize": 45, "labelOpacity": 0, "rowPadding": -4.2, "padding": 0, "encode": {"symbols": {"update": {"size": {"value": 460}, "stroke": {"value": "black"}, "strokeWidth": {"value": 9.5}, "opacity": {"value": 1}}}, "labels": {"update": {"fontSize": {"value": 45}, "opacity": {"value": 0}}}}}}
}},
{"transform": [{"filter": "datum.date=='10 August'"}], "mark": {"type": "line", "strokeWidth": 7},
"encoding": {"stroke": {"field": "date", "type": "nominal", "scale": {"domain": ["05 August", "10 August", "20 August"], "range": ["#ff0000", "#008000", "#00bfbf"]}, "legend": {"orient": "none", "legendX": 874, "legendY": 12, "title": null, "symbolType": "stroke", "symbolSize": 1849, "symbolStrokeWidth": 7, "labelFontSize": 43, "labelOffset": 2, "rowPadding": 6.5, "padding": 5, "strokeColor": "black", "fillColor": "white"}}}},
{"transform": [{"filter": "datum.date=='10 August'"}], "mark": {"type": "point", "filled": true, "size": 620, "stroke": "black", "strokeWidth": 9.5, "opacity": 1},
"encoding": {
"color": {"field": "date", "type": "nominal", "scale": {"range": ["#ff0000", "#008000", "#00bfbf"]}, "legend": {"orient": "none", "legendX": 879, "legendY": 17, "title": null, "symbolSize": 460, "symbolStrokeColor": "black", "symbolStrokeWidth": 9.5, "symbolOpacity": 1, "labelFontSize": 45, "labelOpacity": 0, "rowPadding": -4.2, "padding": 0, "encode": {"symbols": {"update": {"size": {"value": 460}, "stroke": {"value": "black"}, "strokeWidth": {"value": 9.5}, "opacity": {"value": 1}}}, "labels": {"update": {"fontSize": {"value": 45}, "opacity": {"value": 0}}}}}},
"shape": {"field": "date", "type": "nominal", "scale": {"range": ["circle", "triangle-up", "square"]}, "legend": {"orient": "none", "legendX": 879, "legendY": 17, "title": null, "symbolSize": 460, "symbolStrokeColor": "black", "symbolStrokeWidth": 9.5, "symbolOpacity": 1, "labelFontSize": 45, "labelOpacity": 0, "rowPadding": -4.2, "padding": 0, "encode": {"symbols": {"update": {"size": {"value": 460}, "stroke": {"value": "black"}, "strokeWidth": {"value": 9.5}, "opacity": {"value": 1}}}, "labels": {"update": {"fontSize": {"value": 45}, "opacity": {"value": 0}}}}}}
}},
{"transform": [{"filter": "datum.date=='20 August'"}], "mark": {"type": "line", "strokeWidth": 7},
"encoding": {"stroke": {"field": "date", "type": "nominal", "scale": {"domain": ["05 August", "10 August", "20 August"], "range": ["#ff0000", "#008000", "#00bfbf"]}, "legend": {"orient": "none", "legendX": 874, "legendY": 12, "title": null, "symbolType": "stroke", "symbolSize": 1849, "symbolStrokeWidth": 7, "labelFontSize": 43, "labelOffset": 2, "rowPadding": 6.5, "padding": 5, "strokeColor": "black", "fillColor": "white"}}}},
{"transform": [{"filter": "datum.date=='20 August'"}], "mark": {"type": "point", "filled": true, "size": 400, "stroke": "black", "strokeWidth": 9.5, "opacity": 1},
"encoding": {
"color": {"field": "date", "type": "nominal", "scale": {"range": ["#ff0000", "#008000", "#00bfbf"]}, "legend": {"orient": "none", "legendX": 879, "legendY": 17, "title": null, "symbolSize": 460, "symbolStrokeColor": "black", "symbolStrokeWidth": 9.5, "symbolOpacity": 1, "labelFontSize": 45, "labelOpacity": 0, "rowPadding": -4.2, "padding": 0, "encode": {"symbols": {"update": {"size": {"value": 460}, "stroke": {"value": "black"}, "strokeWidth": {"value": 9.5}, "opacity": {"value": 1}}}, "labels": {"update": {"fontSize": {"value": 45}, "opacity": {"value": 0}}}}}},
"shape": {"field": "date", "type": "nominal", "scale": {"range": ["circle", "triangle-up", "square"]}, "legend": {"orient": "none", "legendX": 879, "legendY": 17, "title": null, "symbolSize": 460, "symbolStrokeColor": "black", "symbolStrokeWidth": 9.5, "symbolOpacity": 1, "labelFontSize": 45, "labelOpacity": 0, "rowPadding": -4.2, "padding": 0, "encode": {"symbols": {"update": {"size": {"value": 460}, "stroke": {"value": "black"}, "strokeWidth": {"value": 9.5}, "opacity": {"value": 1}}}, "labels": {"update": {"fontSize": {"value": 45}, "opacity": {"value": 0}}}}}}
}}
],
"resolve": {"axis": {"x": "independent", "y": "independent"}}
},
{
"width": 1134, "height": 576,
"transform": [{"filter": "datum.panel=='S2M'"}],
"encoding": {
"x": {"field": "hour", "type": "quantitative", "scale": {"domain": [0, 25], "nice": false, "zero": false}, "axis": null},
"y": {"field": "mrt", "type": "quantitative", "scale": {"domain": [0, 80], "nice": false}, "axis": null}
},
"layer": [
{"transform": [{"filter": "datum.date=='05 August'"}], "mark": {"type": "line", "strokeWidth": 7},
"encoding": {
"x": {"field": "hour", "type": "quantitative", "scale": {"domain": [0, 25], "nice": false, "zero": false}, "axis": {"orient": "bottom", "values": [1, 6, 12, 18, 24], "labelExpr": "(datum.value+6)%24<10 ? '0'+((datum.value+6)%24) : ''+((datum.value+6)%24)", "title": "Time (Hours)", "titleFontSize": 48, "titleX": 606, "titleY": 86, "titleAlign": "center", "titleBaseline": "alphabetic"}},
"y": {"field": "mrt", "type": "quantitative", "scale": {"domain": [0, 80], "nice": false}, "axis": {"orient": "left", "values": [0, 20, 40, 60, 80], "title": "Mean Radiant Temperature (°C)", "titleFontSize": 43, "titleX": -82, "titleY": 265, "titleAngle": 270, "titleAlign": "center", "titleBaseline": "middle"}},
"stroke": {"field": "date", "type": "nominal", "scale": {"domain": ["05 August", "10 August", "20 August"], "range": ["#ff0000", "#008000", "#00bfbf"]}, "legend": {"orient": "none", "legendX": 866, "legendY": 11, "title": null, "symbolType": "stroke", "symbolSize": 1849, "symbolStrokeWidth": 7, "labelFontSize": 43, "labelOffset": 2, "rowPadding": 6.5, "padding": 5, "strokeColor": "black", "fillColor": "white"}}
}},
{"transform": [{"filter": "datum.date=='05 August'"}], "mark": {"type": "point", "filled": true, "size": 420, "stroke": "black", "strokeWidth": 9.5, "opacity": 1},
"encoding": {
"x": {"field": "hour", "type": "quantitative", "scale": {"domain": [0, 25], "nice": false, "zero": false}, "axis": {"orient": "top", "values": [1, 6, 12, 18, 24], "labels": false, "title": "Site 2 Mitigated", "titleFontSize": 52, "titleX": 571, "titleY": -40, "titleAngle": 0, "titleAlign": "center", "titleBaseline": "alphabetic"}},
"y": {"field": "mrt", "type": "quantitative", "scale": {"domain": [0, 80], "nice": false}, "axis": {"orient": "right", "values": [0, 20, 40, 60, 80], "labels": false, "title": null}},
"color": {"field": "date", "type": "nominal", "scale": {"range": ["#ff0000", "#008000", "#00bfbf"]}, "legend": {"orient": "none", "legendX": 871, "legendY": 16, "title": null, "symbolSize": 460, "symbolStrokeColor": "black", "symbolStrokeWidth": 9.5, "symbolOpacity": 1, "labelFontSize": 45, "labelOpacity": 0, "rowPadding": -4.2, "padding": 0, "encode": {"symbols": {"update": {"size": {"value": 460}, "stroke": {"value": "black"}, "strokeWidth": {"value": 9.5}, "opacity": {"value": 1}}}, "labels": {"update": {"fontSize": {"value": 45}, "opacity": {"value": 0}}}}}},
"shape": {"field": "date", "type": "nominal", "scale": {"range": ["circle", "triangle-up", "square"]}, "legend": {"orient": "none", "legendX": 871, "legendY": 16, "title": null, "symbolSize": 460, "symbolStrokeColor": "black", "symbolStrokeWidth": 9.5, "symbolOpacity": 1, "labelFontSize": 45, "labelOpacity": 0, "rowPadding": -4.2, "padding": 0, "encode": {"symbols": {"update": {"size": {"value": 460}, "stroke": {"value": "black"}, "strokeWidth": {"value": 9.5}, "opacity": {"value": 1}}}, "labels": {"update": {"fontSize": {"value": 45}, "opacity": {"value": 0}}}}}}
}},
{"transform": [{"filter": "datum.date=='10 August'"}], "mark": {"type": "line", "strokeWidth": 7},
"encoding": {"stroke": {"field": "date", "type": "nominal", "scale": {"domain": ["05 August", "10 August", "20 August"], "range": ["#ff0000", "#008000", "#00bfbf"]}, "legend": {"orient": "none", "legendX": 866, "legendY": 11, "title": null, "symbolType": "stroke", "symbolSize": 1849, "symbolStrokeWidth": 7, "labelFontSize": 43, "labelOffset": 2, "rowPadding": 6.5, "padding": 5, "strokeColor": "black", "fillColor": "white"}}}},
{"transform": [{"filter": "datum.date=='10 August'"}], "mark": {"type": "point", "filled": true, "size": 620, "stroke": "black", "strokeWidth": 9.5, "opacity": 1},
"encoding": {
"color": {"field": "date", "type": "nominal", "scale": {"range": ["#ff0000", "#008000", "#00bfbf"]}, "legend": {"orient": "none", "legendX": 871, "legendY": 16, "title": null, "symbolSize": 460, "symbolStrokeColor": "black", "symbolStrokeWidth": 9.5, "symbolOpacity": 1, "labelFontSize": 45, "labelOpacity": 0, "rowPadding": -4.2, "padding": 0, "encode": {"symbols": {"update": {"size": {"value": 460}, "stroke": {"value": "black"}, "strokeWidth": {"value": 9.5}, "opacity": {"value": 1}}}, "labels": {"update": {"fontSize": {"value": 45}, "opacity": {"value": 0}}}}}},
"shape": {"field": "date", "type": "nominal", "scale": {"range": ["circle", "triangle-up", "square"]}, "legend": {"orient": "none", "legendX": 871, "legendY": 16, "title": null, "symbolSize": 460, "symbolStrokeColor": "black", "symbolStrokeWidth": 9.5, "symbolOpacity": 1, "labelFontSize": 45, "labelOpacity": 0, "rowPadding": -4.2, "padding": 0, "encode": {"symbols": {"update": {"size": {"value": 460}, "stroke": {"value": "black"}, "strokeWidth": {"value": 9.5}, "opacity": {"value": 1}}}, "labels": {"update": {"fontSize": {"value": 45}, "opacity": {"value": 0}}}}}}
}},
{"transform": [{"filter": "datum.date=='20 August'"}], "mark": {"type": "line", "strokeWidth": 7},
"encoding": {"stroke": {"field": "date", "type": "nominal", "scale": {"domain": ["05 August", "10 August", "20 August"], "range": ["#ff0000", "#008000", "#00bfbf"]}, "legend": {"orient": "none", "legendX": 866, "legendY": 11, "title": null, "symbolType": "stroke", "symbolSize": 1849, "symbolStrokeWidth": 7, "labelFontSize": 43, "labelOffset": 2, "rowPadding": 6.5, "padding": 5, "strokeColor": "black", "fillColor": "white"}}}},
{"transform": [{"filter": "datum.date=='20 August'"}], "mark": {"type": "point", "filled": true, "size": 400, "stroke": "black", "strokeWidth": 9.5, "opacity": 1},
"encoding": {
"color": {"field": "date", "type": "nominal", "scale": {"range": ["#ff0000", "#008000", "#00bfbf"]}, "legend": {"orient": "none", "legendX": 871, "legendY": 16, "title": null, "symbolSize": 460, "symbolStrokeColor": "black", "symbolStrokeWidth": 9.5, "symbolOpacity": 1, "labelFontSize": 45, "labelOpacity": 0, "rowPadding": -4.2, "padding": 0, "encode": {"symbols": {"update": {"size": {"value": 460}, "stroke": {"value": "black"}, "strokeWidth": {"value": 9.5}, "opacity": {"value": 1}}}, "labels": {"update": {"fontSize": {"value": 45}, "opacity": {"value": 0}}}}}},
"shape": {"field": "date", "type": "nominal", "scale": {"range": ["circle", "triangle-up", "square"]}, "legend": {"orient": "none", "legendX": 871, "legendY": 16, "title": null, "symbolSize": 460, "symbolStrokeColor": "black", "symbolStrokeWidth": 9.5, "symbolOpacity": 1, "labelFontSize": 45, "labelOpacity": 0, "rowPadding": -4.2, "padding": 0, "encode": {"symbols": {"update": {"size": {"value": 460}, "stroke": {"value": "black"}, "strokeWidth": {"value": 9.5}, "opacity": {"value": 1}}}, "labels": {"update": {"fontSize": {"value": 45}, "opacity": {"value": 0}}}}}}
}}
],
"resolve": {"axis": {"x": "independent", "y": "independent"}}
}
]
}
],
"config": {
"font": "Liberation Serif",
"view": {"stroke": "black", "strokeWidth": 2},
"axis": {"labelFont": "Liberation Serif", "labelFontWeight": "bold", "labelFontSize": 40, "labelColor": "black", "labelPadding": 19, "labelOverlap": false, "labelFlush": false, "titleFont": "Liberation Serif", "titleFontWeight": "bold", "titleColor": "black", "domainColor": "black", "domainWidth": 2, "tickColor": "black", "tickWidth": 2, "tickSize": -10, "grid": false},
"legend": {"labelFont": "Liberation Serif", "labelFontWeight": "bold", "labelFontSize": 42, "labelColor": "black", "labelLimit": 500}
}
}
